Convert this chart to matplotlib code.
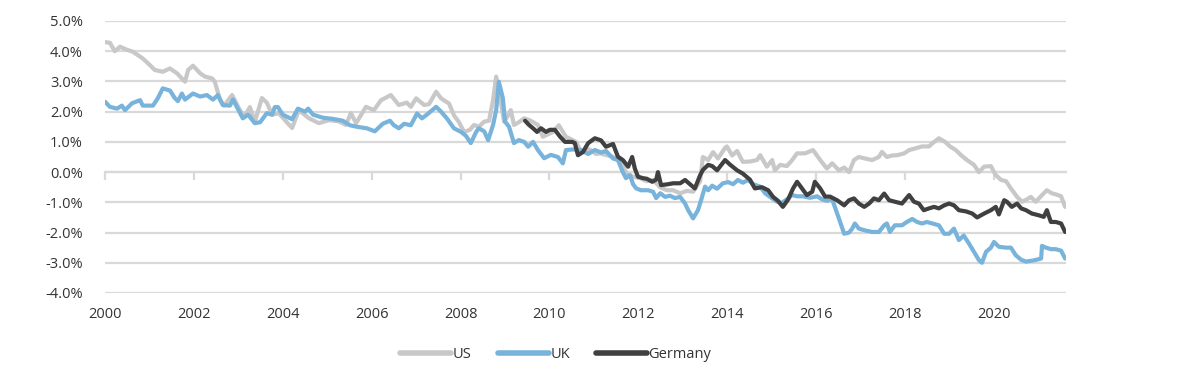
import matplotlib
matplotlib.use("Agg")
import matplotlib.pyplot as plt
import numpy as np

# ---------------- data (decimal years, % values) ----------------
us_dates = [2000.00, 2000.11, 2000.22, 2000.34, 2000.49, 2000.63, 2000.85, 2001.01, 2001.12, 2001.30,
            2001.39, 2001.46, 2001.62, 2001.80, 2001.87, 2001.98, 2002.14, 2002.25, 2002.41, 2002.47,
            2002.59, 2002.68, 2002.86, 2003.01, 2003.13, 2003.26, 2003.37, 2003.53, 2003.64, 2003.76,
            2003.91, 2004.09, 2004.21, 2004.36, 2004.59, 2004.81, 2005.04, 2005.26, 2005.42, 2005.53,
            2005.65, 2005.87, 2006.05, 2006.21, 2006.43, 2006.61, 2006.79, 2006.88, 2007.00, 2007.18,
            2007.29, 2007.45, 2007.56, 2007.74, 2007.85, 2007.96, 2008.08, 2008.21, 2008.30, 2008.41,
            2008.53, 2008.64, 2008.73, 2008.80, 2008.86, 2008.98, 2009.07, 2009.13, 2009.20, 2009.31,
            2009.43, 2009.58, 2009.74, 2009.85, 2010.08, 2010.21, 2010.37, 2010.60, 2010.71, 2010.90,
            2011.05, 2011.14, 2011.29, 2011.43, 2011.59, 2011.74, 2011.88, 2012.04, 2012.19, 2012.33,
            2012.49, 2012.64, 2012.78, 2012.94, 2013.09, 2013.23, 2013.39, 2013.45, 2013.57, 2013.68,
            2013.79, 2013.95, 2013.99, 2014.11, 2014.22, 2014.35, 2014.51, 2014.67, 2014.74, 2014.89,
            2015.01, 2015.07, 2015.19, 2015.34, 2015.46, 2015.57, 2015.75, 2015.93, 2016.09, 2016.24,
            2016.36, 2016.51, 2016.63, 2016.74, 2016.85, 2016.96, 2017.10, 2017.26, 2017.41, 2017.48,
            2017.59, 2017.71, 2017.82, 2017.98, 2018.09, 2018.22, 2018.38, 2018.54, 2018.61, 2018.76,
            2018.90, 2019.01, 2019.14, 2019.26, 2019.39, 2019.55, 2019.66, 2019.78, 2019.93, 2020.04,
            2020.16, 2020.27, 2020.38, 2020.52, 2020.63, 2020.72, 2020.83, 2020.94, 2021.08, 2021.19,
            2021.30, 2021.42, 2021.51, 2021.60]
us_values = [4.30, 4.28, 4.00, 4.15, 4.05, 3.98, 3.76, 3.54, 3.38, 3.32,
             3.38, 3.43, 3.27, 2.99, 3.38, 3.52, 3.27, 3.16, 3.10, 2.99,
             2.38, 2.20, 2.55, 2.12, 1.82, 2.15, 1.66, 2.45, 2.30, 1.90,
             1.95, 1.65, 1.46, 2.05, 1.78, 1.62, 1.72, 1.68, 1.56, 1.95,
             1.62, 2.16, 2.05, 2.38, 2.55, 2.22, 2.30, 2.16, 2.44, 2.22,
             2.25, 2.66, 2.44, 2.27, 1.88, 1.66, 1.33, 1.40, 1.56, 1.50,
             1.67, 1.70, 2.38, 3.16, 2.70, 1.67, 1.88, 2.05, 1.56, 1.65,
             1.78, 1.70, 1.56, 1.17, 1.33, 1.55, 1.17, 1.00, 0.67, 0.75,
             0.60, 0.62, 0.56, 0.50, 0.40, -0.06, -0.15, -0.20, -0.30, -0.26,
             -0.50, -0.60, -0.60, -0.70, -0.62, -0.65, -0.30, 0.50, 0.40, 0.66,
             0.45, 0.80, 0.85, 0.55, 0.70, 0.34, 0.35, 0.40, 0.56, 0.18,
             0.40, 0.06, 0.24, 0.20, 0.40, 0.62, 0.62, 0.73, 0.40, 0.12,
             0.29, 0.06, 0.15, 0.00, 0.40, 0.50, 0.45, 0.40, 0.50, 0.67,
             0.50, 0.55, 0.56, 0.62, 0.73, 0.78, 0.85, 0.85, 0.95, 1.12,
             1.00, 0.85, 0.73, 0.56, 0.40, 0.24, 0.00, 0.18, 0.20, -0.10,
             -0.26, -0.30, -0.54, -0.82, -0.98, -0.92, -0.82, -0.98, -0.76, -0.60,
             -0.70, -0.75, -0.80, -1.15]

uk_dates = [2000.00, 2000.11, 2000.27, 2000.38, 2000.45, 2000.61, 2000.79, 2000.85, 2001.08, 2001.19,
            2001.30, 2001.46, 2001.57, 2001.64, 2001.73, 2001.80, 2001.98, 2002.14, 2002.29, 2002.43,
            2002.54, 2002.65, 2002.81, 2002.88, 2003.10, 2003.22, 2003.37, 2003.49, 2003.64, 2003.76,
            2003.82, 2003.89, 2004.00, 2004.21, 2004.34, 2004.50, 2004.57, 2004.68, 2004.90, 2005.13,
            2005.35, 2005.51, 2005.67, 2005.89, 2006.07, 2006.25, 2006.41, 2006.50, 2006.61, 2006.73,
            2006.88, 2007.02, 2007.13, 2007.24, 2007.45, 2007.56, 2007.69, 2007.85, 2008.01, 2008.12,
            2008.23, 2008.35, 2008.41, 2008.53, 2008.62, 2008.73, 2008.80, 2008.86, 2008.95, 2009.00,
            2009.09, 2009.20, 2009.31, 2009.43, 2009.52, 2009.63, 2009.74, 2009.88, 2010.03, 2010.19,
            2010.30, 2010.37, 2010.53, 2010.71, 2010.87, 2011.02, 2011.16, 2011.27, 2011.43, 2011.54,
            2011.65, 2011.72, 2011.81, 2011.88, 2011.95, 2012.06, 2012.22, 2012.33, 2012.40, 2012.49,
            2012.60, 2012.71, 2012.82, 2012.94, 2013.05, 2013.12, 2013.23, 2013.34, 2013.41, 2013.50,
            2013.57, 2013.66, 2013.77, 2013.90, 2014.02, 2014.13, 2014.24, 2014.35, 2014.47, 2014.58,
            2014.74, 2014.85, 2014.96, 2015.12, 2015.23, 2015.34, 2015.46, 2015.57, 2015.70, 2015.86,
            2016.02, 2016.13, 2016.24, 2016.36, 2016.42, 2016.51, 2016.63, 2016.74, 2016.81, 2016.87,
            2016.96, 2017.10, 2017.26, 2017.41, 2017.53, 2017.59, 2017.66, 2017.77, 2017.93, 2018.04,
            2018.16, 2018.27, 2018.38, 2018.49, 2018.61, 2018.76, 2018.88, 2018.99, 2019.10, 2019.21,
            2019.32, 2019.44, 2019.55, 2019.66, 2019.73, 2019.82, 2019.93, 2020.00, 2020.11, 2020.27,
            2020.38, 2020.49, 2020.61, 2020.72, 2020.90, 2021.06, 2021.08, 2021.17, 2021.28, 2021.39,
            2021.51, 2021.60]
uk_values = [2.33, 2.16, 2.10, 2.20, 2.05, 2.28, 2.38, 2.20, 2.20, 2.45,
             2.77, 2.70, 2.45, 2.35, 2.60, 2.40, 2.60, 2.50, 2.55, 2.40,
             2.55, 2.22, 2.20, 2.40, 1.78, 1.90, 1.62, 1.65, 1.95, 1.90,
             2.15, 2.15, 1.90, 1.75, 2.10, 2.00, 2.10, 1.90, 1.80, 1.76,
             1.70, 1.55, 1.50, 1.45, 1.35, 1.60, 1.70, 1.55, 1.45, 1.60,
             1.55, 1.94, 1.78, 1.90, 2.16, 2.00, 1.78, 1.45, 1.33, 1.20,
             0.96, 1.33, 1.45, 1.35, 1.06, 1.56, 2.05, 2.99, 2.45, 1.67,
             1.50, 0.96, 1.06, 1.00, 0.84, 1.00, 0.73, 0.46, 0.57, 0.50,
             0.29, 0.73, 0.75, 0.73, 0.60, 0.73, 0.65, 0.70, 0.45, 0.40,
             0.00, -0.20, -0.10, -0.40, -0.54, -0.60, -0.60, -0.65, -0.86, -0.70,
             -0.82, -0.78, -0.86, -0.82, -1.04, -1.26, -1.53, -1.26, -0.93, -0.48,
             -0.60, -0.45, -0.55, -0.37, -0.33, -0.40, -0.26, -0.35, -0.26, -0.40,
             -0.48, -0.70, -0.82, -0.98, -1.02, -0.90, -0.76, -0.80, -0.80, -0.85,
             -0.80, -0.90, -0.95, -0.90, -1.15, -1.53, -2.04, -2.00, -1.87, -1.70,
             -1.87, -1.93, -1.98, -1.98, -1.76, -1.70, -1.98, -1.76, -1.76, -1.65,
             -1.55, -1.65, -1.70, -1.65, -1.70, -1.76, -2.04, -2.04, -1.87, -2.25,
             -2.10, -2.37, -2.64, -2.91, -3.00, -2.64, -2.50, -2.31, -2.47, -2.50,
             -2.50, -2.75, -2.90, -2.96, -2.92, -2.86, -2.44, -2.50, -2.55, -2.55,
             -2.60, -2.86]

de_dates = [2009.45, 2009.54, 2009.63, 2009.72, 2009.81, 2009.92, 2010.01, 2010.12, 2010.24, 2010.35,
            2010.51, 2010.57, 2010.64, 2010.75, 2010.87, 2011.02, 2011.16, 2011.27, 2011.43, 2011.54,
            2011.65, 2011.77, 2011.86, 2011.92, 2011.99, 2012.10, 2012.19, 2012.31, 2012.40, 2012.44,
            2012.51, 2012.67, 2012.78, 2012.94, 2013.05, 2013.16, 2013.27, 2013.39, 2013.45, 2013.57,
            2013.66, 2013.77, 2013.95, 2014.06, 2014.22, 2014.35, 2014.51, 2014.62, 2014.78, 2014.92,
            2015.03, 2015.14, 2015.25, 2015.37, 2015.48, 2015.57, 2015.68, 2015.79, 2015.91, 2015.97,
            2016.09, 2016.20, 2016.31, 2016.47, 2016.63, 2016.74, 2016.85, 2016.96, 2017.08, 2017.19,
            2017.30, 2017.41, 2017.53, 2017.64, 2017.77, 2017.93, 2018.09, 2018.20, 2018.31, 2018.42,
            2018.54, 2018.65, 2018.76, 2018.88, 2018.99, 2019.10, 2019.21, 2019.37, 2019.51, 2019.62,
            2019.78, 2019.93, 2020.04, 2020.11, 2020.23, 2020.29, 2020.40, 2020.52, 2020.61, 2020.72,
            2020.85, 2021.01, 2021.12, 2021.19, 2021.28, 2021.39, 2021.51, 2021.60]
de_values = [1.70, 1.56, 1.45, 1.33, 1.45, 1.33, 1.40, 1.40, 1.17, 1.00,
             1.00, 0.96, 0.56, 0.66, 0.96, 1.12, 1.05, 0.84, 0.93, 0.51,
             0.40, 0.18, 0.50, 0.12, -0.15, -0.20, -0.22, -0.32, -0.25, 0.00,
             -0.43, -0.40, -0.37, -0.37, -0.26, -0.40, -0.54, -0.10, 0.07, 0.24,
             0.20, 0.06, 0.40, 0.25, 0.06, -0.05, -0.25, -0.54, -0.50, -0.60,
             -0.82, -0.95, -1.15, -0.90, -0.54, -0.32, -0.54, -0.76, -0.65, -0.32,
             -0.54, -0.81, -0.81, -0.93, -1.10, -0.93, -0.87, -1.04, -1.15, -1.04,
             -0.87, -0.93, -0.71, -0.93, -0.98, -1.04, -0.76, -0.98, -1.04, -1.26,
             -1.20, -1.15, -1.20, -1.10, -1.04, -1.10, -1.26, -1.30, -1.37, -1.50,
             -1.37, -1.26, -1.15, -1.40, -0.93, -0.98, -1.15, -1.04, -1.20, -1.26,
             -1.37, -1.43, -1.48, -1.26, -1.65, -1.65, -1.70, -1.98]

series_names = ["US", "UK", "Germany"]
series_colors = ["#c8c8c8", "#78b3dc", "#404040"]
x_ticks = [2000, 2002, 2004, 2006, 2008, 2010, 2012, 2014, 2016, 2018, 2020]
y_ticks = [-4, -3, -2, -1, 0, 1, 2, 3, 4, 5]

# ---------------- figure ----------------
plt.rcParams['font.family'] = ['Open Sans', 'DejaVu Sans']
text_color = "#333333"
grid_color = "#d9d9d9"

fig = plt.figure(figsize=(11.8, 3.8), dpi=100)
ax = fig.add_axes([105/1180, 1 - 293/380, (1066 - 105)/1180, (293 - 21)/380])

ax.set_xlim(2000, 2021.62)
ax.set_ylim(-4, 5)

for y in y_ticks:
    ax.axhline(y, color=grid_color, lw=1.6, zorder=0)

lines = []
for d, v, name, c in zip([us_dates, uk_dates, de_dates],
                         [us_values, uk_values, de_values],
                         series_names, series_colors):
    ln, = ax.plot(d, v, color=c, lw=3.0, label=name, solid_joinstyle='round',
                  solid_capstyle='round', zorder=3)
    lines.append(ln)

# y axis
ax.set_yticks(y_ticks)
ax.set_yticklabels([f"{t:.1f}%" for t in y_ticks])
ax.tick_params(axis='y', length=0, pad=16, labelsize=10.5, labelcolor=text_color)

# x axis: tick marks on zero line, labels at the bottom
for s in ax.spines.values():
    s.set_visible(False)
ax.spines['bottom'].set_visible(True)
ax.spines['bottom'].set_position(('data', 0))
ax.spines['bottom'].set_color(grid_color)
ax.spines['bottom'].set_linewidth(1.6)
ax.set_xticks(x_ticks)
ax.tick_params(axis='x', direction='out', length=6, width=1.6, color=grid_color,
               labelbottom=False)

sec = ax.secondary_xaxis(0)
sec.set_xticks(x_ticks)
sec.set_xticklabels([str(t) for t in x_ticks])
sec.tick_params(axis='x', length=0, pad=10, labelsize=10.5, labelcolor=text_color)
for s in sec.spines.values():
    s.set_visible(False)

leg = fig.legend(handles=lines, loc='center', bbox_to_anchor=(0.471, 0.066), ncol=3,
                 frameon=False, fontsize=10.5, handlelength=3.5, handletextpad=0.1,
                 columnspacing=1.8, labelcolor=text_color)
for h in leg.legend_handles:
    h.set_linewidth(4.0)
    h.set_solid_capstyle('round')

fig.savefig("out.png", dpi=100)
